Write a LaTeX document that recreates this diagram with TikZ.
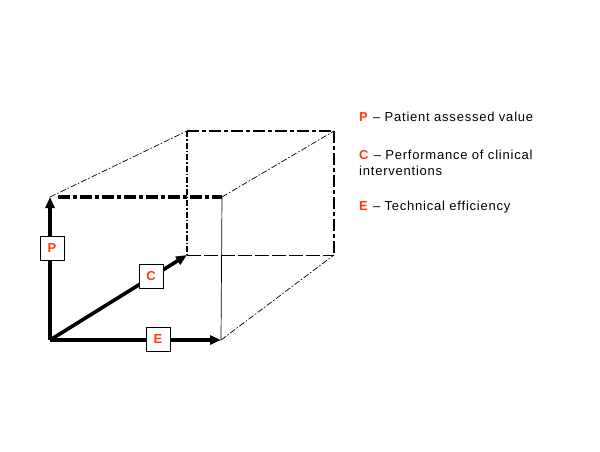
\documentclass[tikz,border=0pt]{standalone}
\usepackage{fontspec}
\setmainfont{Liberation Sans}
\newfontfamily\legfont[LetterSpace=6]{Liberation Sans}
\usetikzlibrary{arrows.meta}
\definecolor{lab}{HTML}{FF3D0A}
\begin{document}
\begin{tikzpicture}[x=1pt,y=-1pt,
  axis/.style={line width=3.6pt,-{Triangle[length=11pt,width=9pt]}},
  thinedge/.style={line width=0.7pt},
  hid/.style={line width=0.7pt,dash pattern=on 6pt off 2pt on 1.5pt off 2pt},
  dashdot/.style={line width=3.2pt,dash pattern=on 12pt off 3pt on 4pt off 3pt},
  lbox/.style={draw,line width=0.6pt,fill=white,minimum width=24pt,minimum height=24pt,inner sep=0pt,font=\bfseries\fontsize{13}{13}\selectfont,text=lab},
  legend/.style={anchor=west,font=\legfont\fontsize{13}{16}\selectfont,align=left,inner sep=0pt}]
\useasboundingbox (0,0) rectangle (600,451);
\fill[white] (0,0) rectangle (600,451);
% cube corners
\coordinate (O) at (50,340);
\coordinate (FBR) at (221,340);
\coordinate (FTL) at (50,197);
\coordinate (FTR) at (222,197);
\coordinate (BBL) at (187,255);
\coordinate (BTL) at (187,131);
\coordinate (BTR) at (334,131);
\coordinate (BBR) at (334,255);
% back edges
\draw[hid,line width=1.6pt] (BTL) -- (BBL);
\draw[dash pattern=on 14pt off 3pt,line width=1pt] (BBL) -- (BBR);
\draw[dashdot,line width=2.6pt] (BTL) -- (BTR);
\draw[dashdot,line width=1.8pt] (BTR) -- (BBR);
% depth edges
\draw[hid] (FTL) -- (BTL);
\draw[hid] (FTR) -- (BTR);
\draw[hid] (FBR) -- (BBR);
% front edges
\draw[thinedge] (FTR) -- (FBR);
\draw[dashdot] ([xshift=8pt]FTL) -- (FTR);
% axes
\draw[axis] (O) -- (FBR);
\draw[axis] (O) -- (FTL);
\draw[axis] (O) -- (BBL);
% labels
\node[lbox] (P) at (52,248) {P};
\node[lbox] (C) at (151,276) {C};
\node[lbox] (E) at (158,339) {E};
% legend
\node[legend] (L1) at (359,117) {\textcolor{lab}{\textbf{P}} – Patient assessed value};
\node[legend] (L2) at (359,163) {\textcolor{lab}{\textbf{C}} – Performance of clinical\\interventions};
\node[legend] (L3) at (359,207) {\textcolor{lab}{\textbf{E}} – Technical efficiency};
\end{tikzpicture}
\end{document}
